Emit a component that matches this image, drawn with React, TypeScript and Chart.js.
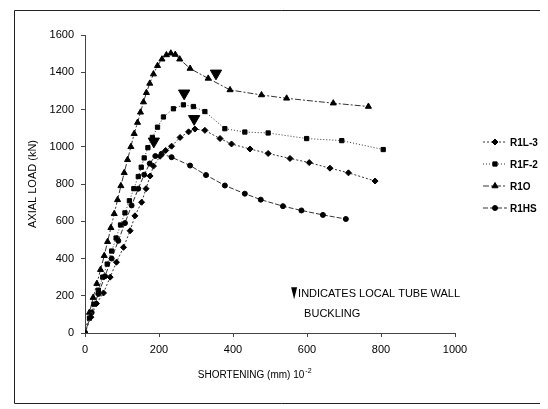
import React, { useEffect, useRef } from "react";
import { Chart, registerables } from "chart.js";
import { drawPoint } from "chart.js/helpers";

Chart.register(...registerables);

const seriesNames = ["R1L-3", "R1F-2", "R1O", "R1HS"];

const r1l3X = [0, 16, 31, 50, 68, 85, 104, 122, 135, 153, 165, 176, 185, 203, 218, 234, 257, 280, 297, 324, 365, 396, 446, 495, 554, 606, 662, 712, 784];
const r1l3Y = [0, 85, 158, 215, 300, 380, 460, 549, 629, 702, 775, 843, 896, 949, 980, 1003, 1050, 1080, 1095, 1088, 1044, 1015, 988, 964, 937, 915, 885, 860, 816];

const r1f2X = [0, 12, 24, 36, 48, 60, 72, 84, 96, 108, 120, 132, 144, 152, 160, 170, 182, 196, 212, 239, 266, 293, 324, 378, 432, 495, 599, 694, 806];
const r1f2Y = [0, 80, 155, 230, 300, 370, 440, 510, 580, 645, 710, 775, 840, 890, 940, 995, 1050, 1105, 1160, 1204, 1225, 1216, 1189, 1097, 1079, 1074, 1044, 1033, 985];

const r1oX = [0, 12, 22, 32, 42, 52, 61, 70, 79, 88, 97, 106, 115, 124, 133, 142, 150, 158, 166, 175, 185, 196, 208, 220, 232, 244, 256, 284, 333, 392, 477, 545, 671, 766];
const r1oY = [0, 110, 190, 265, 340, 415, 490, 565, 640, 715, 790, 860, 930, 1000, 1070, 1130, 1185, 1240, 1290, 1340, 1390, 1435, 1470, 1493, 1502, 1495, 1470, 1420, 1367, 1305, 1278, 1260, 1234, 1216];

const r1hsX = [0, 18, 36, 54, 72, 90, 108, 126, 144, 160, 175, 190, 207, 234, 284, 327, 378, 432, 475, 535, 585, 643, 705];
const r1hsY = [0, 110, 210, 305, 400, 495, 590, 685, 775, 850, 910, 950, 962, 944, 899, 848, 792, 748, 716, 681, 658, 634, 612];

const bucklingX = [186, 268, 295, 354];
const bucklingY = [1029, 1287, 1150, 1394];

const xTickValues = [0, 200, 400, 600, 800, 1000];
const yTickValues = [0, 200, 400, 600, 800, 1000, 1200, 1400, 1600];

const xTitle = "SHORTENING (mm) 10";
const xTitleSup = "-2";
const yTitle = "AXIAL LOAD (kN)";
const noteLines = ["INDICATES LOCAL TUBE WALL", "BUCKLING"];
const noteAnchor = { x: 576, y: 213 };

const FONT = "Arial, 'Liberation Sans', sans-serif";

function pts(xs: number[], ys: number[]) {
  return xs.map((x, i) => ({ x, y: ys[i] }));
}

const decorPlugin = {
  id: "decor",
  beforeDraw(chart: any) {
    const { ctx, width } = chart;
    ctx.save();
    ctx.fillStyle = "#fff";
    ctx.fillRect(0, 0, chart.width, chart.height);
    ctx.strokeStyle = "#222";
    ctx.lineWidth = 1;
    ctx.beginPath();
    ctx.moveTo(width, 2.5);
    ctx.lineTo(6.5, 2.5);
    ctx.lineTo(6.5, 395.5);
    ctx.lineTo(width, 395.5);
    ctx.stroke();
    ctx.restore();
  },
  afterDraw(chart: any) {
    const { ctx, chartArea, scales } = chart;
    ctx.save();
    // legend
    const lx = chartArea.right + 28;
    let ly = chartArea.top + 107;
    ctx.font = `bold 10px ${FONT}`;
    ctx.textBaseline = "middle";
    ctx.textAlign = "left";
    for (let i = 0; i < seriesNames.length; i++) {
      const ds = chart.data.datasets[i];
      ctx.save();
      ctx.strokeStyle = ds.borderColor;
      ctx.lineWidth = 1;
      ctx.setLineDash(ds.borderDash || []);
      ctx.beginPath();
      ctx.moveTo(lx, ly);
      ctx.lineTo(lx + 24, ly);
      ctx.stroke();
      ctx.restore();
      ctx.fillStyle = "#000";
      ctx.strokeStyle = "#000";
      drawPoint(ctx, { pointStyle: ds.pointStyle, radius: ds.pointRadius, borderWidth: 1, rotation: 0 } as any, lx + 12, ly);
      ctx.fillStyle = "#000";
      ctx.fillText(seriesNames[i], lx + 27, ly + 1);
      ly += 22;
    }
    // note
    const nx = scales.x.getPixelForValue(noteAnchor.x);
    const ny = scales.y.getPixelForValue(noteAnchor.y);
    ctx.fillStyle = "#000";
    ctx.beginPath();
    ctx.moveTo(nx - 7, ny - 6);
    ctx.lineTo(nx - 1, ny - 6);
    ctx.lineTo(nx - 4, ny + 6);
    ctx.closePath();
    ctx.fill();
    ctx.font = `11px ${FONT}`;
    ctx.fillText(noteLines[0], nx, ny + 1);
    ctx.fillText(noteLines[1], nx + 6, ny + 21);
    // x title
    const tx = chartArea.left + chartArea.width * 0.305;
    const ty = chartArea.bottom + 42;
    ctx.font = `10px ${FONT}`;
    ctx.fillText(xTitle, tx, ty);
    const w = ctx.measureText(xTitle).width;
    ctx.font = `7px ${FONT}`;
    ctx.fillText(xTitleSup, tx + w + 1, ty - 4);
    ctx.restore();
  },
};

export default function App() {
  const ref = useRef<HTMLCanvasElement>(null);
  useEffect(() => {
    if (!ref.current) return;
    const lineColor = "#333";
    const chart = new Chart(ref.current, {
      type: "line",
      data: {
        datasets: [
          { label: seriesNames[0], data: pts(r1l3X, r1l3Y), borderColor: lineColor, borderWidth: 1, borderDash: [2, 2], pointStyle: "rectRot", pointRadius: 3, backgroundColor: "#000", pointBorderColor: "#000" },
          { label: seriesNames[1], data: pts(r1f2X, r1f2Y), borderColor: lineColor, borderWidth: 1, borderDash: [1, 2], pointStyle: "rect", pointRadius: 3, backgroundColor: "#000", pointBorderColor: "#000" },
          { label: seriesNames[2], data: pts(r1oX, r1oY), borderColor: lineColor, borderWidth: 1, borderDash: [6, 2, 2, 2], pointStyle: "triangle", pointRadius: 3.5, backgroundColor: "#000", pointBorderColor: "#000" },
          { label: seriesNames[3], data: pts(r1hsX, r1hsY), borderColor: lineColor, borderWidth: 1, borderDash: [5, 2], pointStyle: "circle", pointRadius: 2.5, backgroundColor: "#000", pointBorderColor: "#000" },
          { label: "buckling", data: pts(bucklingX, bucklingY), showLine: false, pointStyle: "triangle", rotation: 180, pointRadius: 6.5, backgroundColor: "#000", borderColor: "#000", pointBorderColor: "#000" } as any,
        ],
      },
      options: {
        responsive: false,
        animation: false,
        layout: { padding: { left: 14, right: 93, top: 27, bottom: 20 } },
        plugins: { legend: { display: false }, tooltip: { enabled: false } },
        scales: {
          x: {
            type: "linear",
            min: 0,
            max: 1000,
            afterBuildTicks: (s: any) => { s.ticks = xTickValues.map((v) => ({ value: v })); },
            afterFit: (s: any) => { s.height = 56; },
            border: { display: true, color: "#444", width: 1 },
            grid: { display: true, drawOnChartArea: false, drawTicks: true, tickLength: 4, color: "#444" },
            ticks: { padding: 6, color: "#000", font: { family: FONT, size: 11 }, maxRotation: 0, callback: (v: any) => String(v) },
          },
          y: {
            type: "linear",
            min: 0,
            max: 1600,
            afterBuildTicks: (s: any) => { s.ticks = yTickValues.map((v) => ({ value: v })); },
            afterFit: (s: any) => { s.width = 63; },
            border: { display: true, color: "#444", width: 1 },
            grid: { display: true, drawOnChartArea: false, drawTicks: true, tickLength: 4, color: "#444" },
            ticks: { padding: 7, color: "#000", font: { family: FONT, size: 11 }, callback: (v: any) => String(v) },
            title: { display: true, text: yTitle, color: "#000", font: { family: FONT, size: 11 }, padding: 4 },
          },
        },
      },
      plugins: [decorPlugin],
    });
    return () => chart.destroy();
  }, []);
  return (
    <div style={{ width: 540, height: 401 }}>
      <canvas ref={ref} width={540} height={401} style={{ display: "block", width: 540, height: 401 }} />
    </div>
  );
}
